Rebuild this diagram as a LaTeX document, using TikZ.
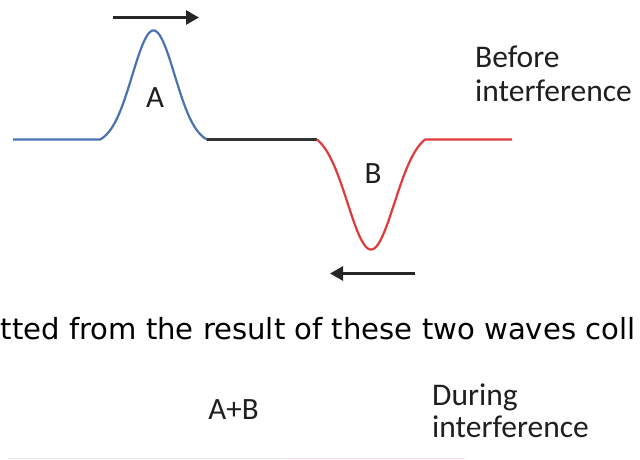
\documentclass[tikz,border=0pt]{standalone}
\usepackage{fontspec}
\setmainfont{Carlito}
\newfontfamily\sentfont{DejaVu Sans}
\usetikzlibrary{arrows.meta}
\definecolor{waveblue}{HTML}{4A72B0}
\definecolor{wavered}{HTML}{E03A3A}
\definecolor{waveblack}{HTML}{333333}
\definecolor{fadeblue}{HTML}{E2EAF6}
\definecolor{fadered}{HTML}{F8E0E0}
\begin{document}
\begin{tikzpicture}[x=1pt,y=-1pt,
  wave/.style={line width=2.2pt,line join=round},
  motion/.style={line width=2.8pt,draw=black!85,-{Triangle[length=13pt,width=14pt]}},
  lbl/.style={inner sep=0pt,anchor=base,font=\fontsize{31}{32}\selectfont,text=black!88},
  side/.style={inner sep=0pt,anchor=base west,font=\fontsize{31.5}{33}\selectfont,text=black!88}]
\useasboundingbox (0,0) rectangle (640,460);
\clip (0,0) rectangle (640,460);
\fill[white] (0,0) rectangle (640,460);
% before interference
\coordinate (b0) at (13,139.5);
\coordinate (b1) at (100,139.5);
\coordinate (b2) at (207,139.5);
\coordinate (r1) at (317,139.5);
\coordinate (r2) at (425,139.5);
\coordinate (r3) at (512,139.5);
\draw[wave,draw=waveblue] (b0) -- (b1)
  -- plot[domain=100:207,samples=90] (\x,{139.5-109*(exp(-((\x-153.5)^2)/900)-0.042)/0.958}) -- (b2);
\draw[wave,draw=waveblack] (b2) -- (r1);
\draw[wave,draw=wavered] (r1)
  -- plot[domain=317:425,samples=90] (\x,{139.5+110*(exp(-((\x-371)^2)/1100)-0.07)/0.93}) -- (r2) -- (r3);
\node[lbl] (A) at (155,107.5) {A};
\node[lbl] (B) at (373,183.5) {B};
\coordinate (ta0) at (113,17.5);
\coordinate (ta1) at (199,17.5);
\draw[motion] (ta0) -- (ta1);
\coordinate (ba0) at (415,273.5);
\coordinate (ba1) at (330,273.5);
\draw[motion] (ba0) -- (ba1);
\node[side] (before1) at (475,67) {Before};
\node[side] (before2) at (475,102) {interference};
% sentence
\node[inner sep=0pt,anchor=base west,font=\sentfont\fontsize{29.1}{30}\selectfont] (sent) at (0.5,339) {tted from the result of these two waves coll};
% during interference
\node[lbl] (AB) at (233.5,419.5) {A+B};
\node[side] (during1) at (432,405) {During};
\node[side] (during2) at (432,437) {interference};
\coordinate (f0) at (8,458.5);
\coordinate (f1) at (286,458.5);
\coordinate (f2) at (465,458.5);
\draw[line width=1.5pt,draw=fadeblue] (f0) -- (f1);
\draw[line width=1.5pt,draw=fadered] (f1) -- (f2);
\end{tikzpicture}
\end{document}
